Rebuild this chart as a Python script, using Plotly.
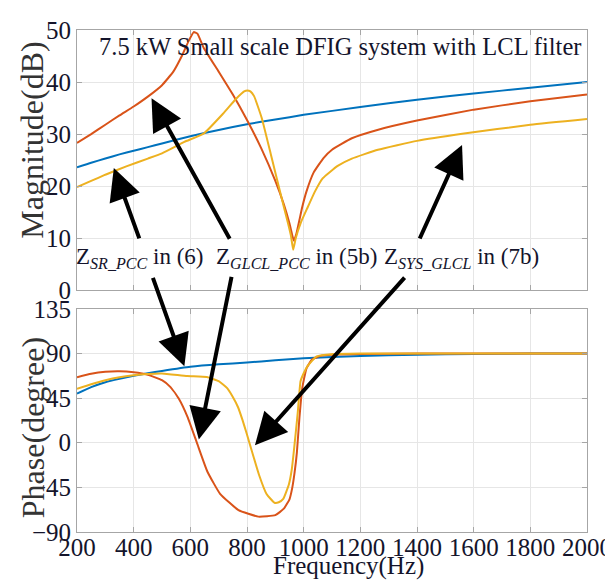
import plotly.graph_objects as go
from plotly.subplots import make_subplots

# ---------------- data ----------------
freq_sr = [200, 250, 300, 350, 400, 450, 500, 600, 700, 800, 900, 1000, 1200, 1400, 1600, 1800, 2000]
mag_sr = [23.6, 24.5, 25.3, 26.1, 26.8, 27.5, 28.2, 29.6, 30.8, 31.9, 32.8, 33.7, 35.2, 36.6, 37.8, 38.9, 40.0]
phase_sr = [49.5, 56, 61, 64.5, 67.5, 70, 72.3, 76.5, 79, 80.8, 83, 85.2, 87.5, 88.7, 89.4, 89.8, 90]

freq_glcl_mag = [200, 250, 300, 350, 400, 450, 500, 540, 570, 595, 612, 625, 647, 700, 750, 800, 850, 900,
                 930, 950, 960, 966, 975, 985, 995, 1010, 1035, 1070, 1100, 1170, 1260, 1400, 1600, 1800, 2000]
mag_glcl = [28.3, 30.0, 31.8, 33.6, 35.3, 37.2, 39.4, 42.0, 45.0, 48.0, 49.6, 49.3, 46.6, 42.0, 37.6, 32.7, 27.3, 21.0,
            16.5, 12.8, 10.5, 9.5, 11.0, 13.5, 16.0, 19.0, 22.6, 25.4, 27.0, 29.2, 30.8, 32.6, 34.7, 36.3, 37.6]
freq_glcl_ph = [200, 250, 300, 350, 400, 450, 500, 530, 560, 590, 623, 660, 705, 770, 840, 900, 930, 950, 960,
                968, 976, 985, 995, 1010, 1030, 1060, 1100, 1200, 1400, 1600, 2000]
phase_glcl = [66, 69.5, 71.5, 72, 71, 68.5, 63, 56, 44, 26, 0, -29, -51.5, -68, -74.5, -73, -66.5, -57, -45,
              -30, -10, 25, 55, 75, 84, 87.5, 88.7, 89.5, 89.8, 90, 90]

freq_sys_mag = [200, 250, 300, 374, 450, 500, 579, 647, 715, 760, 790, 801, 812, 825, 852, 886, 920, 945, 955,
                963, 972, 990, 1013, 1040, 1067, 1120, 1170, 1262, 1400, 1566, 1800, 2000]
mag_sys = [19.8, 21.0, 22.2, 23.8, 25.3, 26.3, 28.5, 30.1, 33.9, 36.7, 38.2, 38.4, 38.2, 37.3, 33.1, 25.7, 18.2,
           12.8, 10.5, 7.8, 10.0, 13.0, 15.8, 19.0, 21.5, 23.9, 25.3, 27.0, 28.7, 30.1, 31.8, 32.9]
freq_sys_ph = [200, 250, 300, 350, 400, 450, 500, 589, 658, 700, 730, 749, 768, 784, 797, 811, 842, 869, 897,
               912, 928, 948, 958, 965, 972, 979, 989, 1000, 1013, 1046, 1100, 1200, 1400, 2000]
phase_sys = [54.4, 59, 63, 66, 68, 69.3, 69.8, 67.2, 66.2, 62, 55, 46.6, 36, 23, 11, -2.5, -32, -51.7, -60.5,
             -60, -56.6, -41.8, -27, -9.4, 10, 30, 62, 70, 77, 87, 89.2, 89.8, 90, 90]

x_ticks = [200, 400, 600, 800, 1000, 1200, 1400, 1600, 1800, 2000]
mag_ticks = [0, 10, 20, 30, 40, 50]
phase_ticks = [-90, -45, 0, 45, 90, 135]

title_text = "7.5 kW Small scale DFIG system with LCL filter"
labels = ["Z<sub><i>SR_PCC</i></sub> in (6)",
          "Z<sub><i>GLCL_PCC</i></sub> in (5b)",
          "Z<sub><i>SYS_GLCL</i></sub> in (7b)"]

# ---------------- styling ----------------
BLUE, RED, YEL = "#0072BD", "#D95319", "#EDB120"
FONT = "Liberation Serif"
TXT = "#14142b"
OFFX, OFFY = 0, 8            # where the figure lands on the page
W, H = 613 - OFFX, 583 - OFFY
L, R, T, B = 69 - OFFX, 17, 17 - OFFY, 51
PW, PH = W - L - R, H - T - B


def pxx(x):  # reference page pixel -> paper x
    return (x - OFFX - L) / PW


def pxy(y):  # reference page pixel -> paper y
    return 1 - (y - OFFY - T) / PH


fig = make_subplots(rows=2, cols=1, shared_xaxes=False, vertical_spacing=0.04)

line_kw = dict(width=2, shape="spline", smoothing=0.4)
fig.add_trace(go.Scatter(x=freq_sr, y=mag_sr, mode="lines", line=dict(color=BLUE, **line_kw), showlegend=False), 1, 1)
fig.add_trace(go.Scatter(x=freq_glcl_mag, y=mag_glcl, mode="lines", line=dict(color=RED, **line_kw), showlegend=False), 1, 1)
fig.add_trace(go.Scatter(x=freq_sys_mag, y=mag_sys, mode="lines", line=dict(color=YEL, **line_kw), showlegend=False), 1, 1)
fig.add_trace(go.Scatter(x=freq_sr, y=phase_sr, mode="lines", line=dict(color=BLUE, **line_kw), showlegend=False), 2, 1)
fig.add_trace(go.Scatter(x=freq_glcl_ph, y=phase_glcl, mode="lines", line=dict(color=RED, **line_kw), showlegend=False), 2, 1)
fig.add_trace(go.Scatter(x=freq_sys_ph, y=phase_sys, mode="lines", line=dict(color=YEL, **line_kw), showlegend=False), 2, 1)

ax_common = dict(showline=True, linecolor="#a6a6a6", linewidth=1, mirror="ticks", ticks="inside", ticklen=5,
                 tickcolor="#a6a6a6", showgrid=True, gridcolor="#e6e6e6", gridwidth=1, zeroline=False,
                 tickfont=dict(family=FONT, size=25, color=TXT))

fig.update_xaxes(range=[200, 2000], tickvals=x_ticks, ticklabeloverflow="allow", **ax_common)
fig.update_xaxes(showticklabels=False, row=1, col=1)
fig.update_xaxes(ticktext=[str(v) for v in x_ticks], ticklabelstandoff=-7, row=2, col=1)
fig.update_yaxes(range=[0, 50], tickvals=mag_ticks, row=1, col=1, **ax_common)
fig.update_yaxes(range=[-90, 135], tickvals=phase_ticks, row=2, col=1, **ax_common)

fig.update_layout(
    width=W, height=H,
    margin=dict(l=L, r=R, t=T, b=B, pad=0),
    paper_bgcolor="white", plot_bgcolor="white",
    xaxis=dict(domain=[0, 1]), xaxis2=dict(domain=[0, 1]),
    yaxis=dict(domain=[pxy(284), 1]),
    yaxis2=dict(domain=[0, pxy(303)]),
)

ann = []
# in-plot title
ann.append(dict(x=pxx(341), y=pxy(34), xref="paper", yref="paper", text=title_text, showarrow=False,
                xanchor="center", yanchor="middle", font=dict(family=FONT, size=24.5, color=TXT)))
# axis titles
ann.append(dict(x=pxx(23), y=pxy(130), xref="paper", yref="paper", text="Magnitude(dB)", showarrow=False,
                textangle=-90, xanchor="center", yanchor="middle", font=dict(family=FONT, size=32, color="#333333")))
ann.append(dict(x=pxx(23), y=pxy(425), xref="paper", yref="paper", text="Phase(degree)", showarrow=False,
                textangle=-90, xanchor="center", yanchor="middle", font=dict(family=FONT, size=32, color="#333333")))
ann.append(dict(x=pxx(350), y=pxy(567), xref="paper", yref="paper", text="Frequency(Hz)", showarrow=False,
                xanchor="center", yanchor="middle", font=dict(family=FONT, size=25, color=TXT)))
# curve labels
for lx, txt in zip([66, 211, 384], labels):
    ann.append(dict(x=pxx(lx), y=pxy(251), xref="paper", yref="paper", text=txt, showarrow=False,
                    xanchor="left", yanchor="middle", font=dict(family=FONT, size=23, color=TXT)))

# arrows (head in data coords, tail offset in pixels)
arrows = [
    ("x", "y", 330, 23.5, 26, 72),
    ("x", "y", 463, 36.9, 79, 142),
    ("x", "y", 1559, 27.9, -43, 95),
    ("x2", "y2", 579, 77, -32, -90),
    ("x2", "y2", 630, 3.3, 33, -164),
    ("x2", "y2", 828, -2.5, 151, -169),
]
for xr, yr, hx, hy, dx, dy in arrows:
    ann.append(dict(x=hx, y=hy, xref=xr, yref=yr, ax=dx, ay=dy, axref="pixel", ayref="pixel", text="",
                    showarrow=True, arrowhead=2, arrowsize=1.6, arrowwidth=4, arrowcolor="black", standoff=0))

fig.update_layout(annotations=ann)
fig.write_html("out.html")
